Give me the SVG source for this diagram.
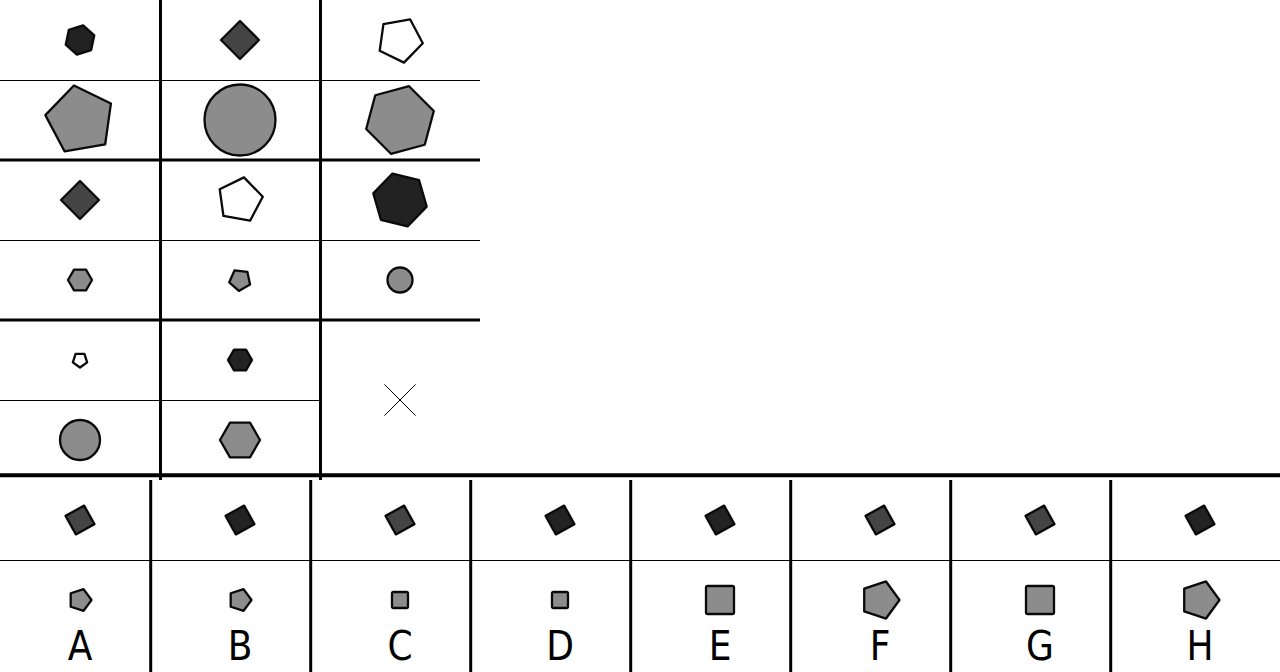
<svg xmlns="http://www.w3.org/2000/svg" xmlns:xlink="http://www.w3.org/1999/xlink" width="1280" height="672" viewBox="0 0 1280 672">
<style>
.s{stroke:#0a0a0a;stroke-width:2.3;stroke-linejoin:round}
.k{fill:#222}.d{fill:#444}.g{fill:#8c8c8c}.w{fill:#fff}
.thin{stroke:#000;stroke-width:1;fill:none}
.thick{stroke:#000;stroke-width:3;fill:none}
.lbl{font-family:"Liberation Sans Narrow","DejaVu Sans Condensed","DejaVu Sans",sans-serif;font-stretch:condensed;font-size:40px;text-anchor:middle;fill:#000}
</style>
<defs>
<polygon id="sq" points="4.13,-14.42 14.42,4.13 -4.13,14.42 -14.42,-4.13"/>
<polygon id="p5s" points="11.5,0 3.55,10.94 -9.3,6.76 -9.3,-6.76 3.55,-10.94"/>
<polygon id="p5l" points="19.5,0 6.03,18.55 -15.78,11.46 -15.78,-11.46 6.03,-18.55"/>
<rect id="rs" x="-8" y="-8" width="16" height="16" rx="1.5"/>
<rect id="rl" x="-14" y="-14" width="28" height="28" rx="1.5"/>
</defs>
<rect width="1280" height="672" fill="#fff"/>
<g id="grid">
<line class="thin" x1="0" y1="80.5" x2="480" y2="80.5"/>
<line class="thin" x1="0" y1="240.5" x2="480" y2="240.5"/>
<line class="thin" x1="0" y1="400.5" x2="320" y2="400.5"/>
<line class="thick" x1="0" y1="160" x2="480" y2="160"/>
<line class="thick" x1="0" y1="320" x2="480" y2="320"/>
<line class="thick" x1="160.5" y1="0" x2="160.5" y2="480"/>
<line class="thick" x1="320.5" y1="0" x2="320.5" y2="480"/>
<line stroke="#000" stroke-width="4" x1="0" y1="475.3" x2="1280" y2="475.3"/>
<line class="thin" x1="0" y1="560.5" x2="1280" y2="560.5"/>
<line class="thick" x1="150.7" y1="480" x2="150.7" y2="672"/>
<line class="thick" x1="310.7" y1="480" x2="310.7" y2="672"/>
<line class="thick" x1="470.7" y1="480" x2="470.7" y2="672"/>
<line class="thick" x1="630.7" y1="480" x2="630.7" y2="672"/>
<line class="thick" x1="790.7" y1="480" x2="790.7" y2="672"/>
<line class="thick" x1="950.7" y1="480" x2="950.7" y2="672"/>
<line class="thick" x1="1110.7" y1="480" x2="1110.7" y2="672"/>
</g>
<g id="r1c1"><polygon class="s k" points="83.12,25.33 94.27,35.36 91.15,50.04 76.88,54.67 65.73,44.64 68.85,29.96"/><polygon class="s g" points="105.18,144.31 64.66,151.46 45.34,115.13 73.92,85.53 110.9,103.57"/></g>
<g id="r1c2"><polygon class="s d" points="240,21 259,40 240,59 221,40"/><circle class="s g" cx="240" cy="120" r="35.5"/></g>
<g id="r1c3"><polygon class="s w" points="422.78,43.2 403.99,62.65 379.69,50.8 383.46,24.02 410.08,19.33"/><polygon class="s g" points="433.81,110.94 424.75,144.75 390.94,153.81 366.19,129.06 375.25,95.25 409.06,86.19"/></g>
<g id="r2c1"><polygon class="s d" points="80,181 99,200 80,219 61,200"/><polygon class="s g" points="92,280 86,290.39 74,290.39 68,280 74,269.61 86,269.61"/></g>
<g id="r2c2"><polygon class="s w" points="250.08,220.67 223.46,215.98 219.69,189.2 243.99,177.35 262.78,196.8"/><polygon class="s g" points="250.05,284.47 238.85,290.94 229.24,282.29 234.5,270.47 247.36,271.83"/></g>
<g id="r2c3"><polygon class="s k" points="426.68,206.65 407.58,226.44 380.9,219.78 373.32,193.35 392.42,173.56 419.1,180.22"/><circle class="s g" cx="400" cy="280" r="12.5"/></g>
<g id="r3c1"><polygon class="s w" points="87.13,362.32 80,367.5 72.87,362.32 75.59,353.93 84.41,353.93"/><circle class="s g" cx="80" cy="440" r="20"/></g>
<g id="r3c2"><polygon class="s k" points="252,360 246,370.39 234,370.39 228,360 234,349.61 246,349.61"/><polygon class="s g" points="260,440 250,457.32 230,457.32 220,440 230,422.68 250,422.68"/></g>
<g id="r3c3"><path d="M384.5,384.5 L415.5,415.5 M415.5,384.5 L384.5,415.5" stroke="#000" stroke-width="1" fill="none"/></g>
<g id="optA"><use xlink:href="#sq" href="#sq" x="80" y="520" class="s d"/><use xlink:href="#p5s" href="#p5s" x="80" y="600" class="s g"/><text class="lbl" x="80" y="660">A</text></g>
<g id="optB"><use xlink:href="#sq" href="#sq" x="240" y="520" class="s k"/><use xlink:href="#p5s" href="#p5s" x="240" y="600" class="s g"/><text class="lbl" x="240" y="660">B</text></g>
<g id="optC"><use xlink:href="#sq" href="#sq" x="400" y="520" class="s d"/><use xlink:href="#rs" href="#rs" x="400" y="600" class="s g"/><text class="lbl" x="400" y="660">C</text></g>
<g id="optD"><use xlink:href="#sq" href="#sq" x="560" y="520" class="s k"/><use xlink:href="#rs" href="#rs" x="560" y="600" class="s g"/><text class="lbl" x="560" y="660">D</text></g>
<g id="optE"><use xlink:href="#sq" href="#sq" x="720" y="520" class="s k"/><use xlink:href="#rl" href="#rl" x="720" y="600" class="s g"/><text class="lbl" x="720" y="660">E</text></g>
<g id="optF"><use xlink:href="#sq" href="#sq" x="880" y="520" class="s d"/><use xlink:href="#p5l" href="#p5l" x="880" y="600" class="s g"/><text class="lbl" x="880" y="660">F</text></g>
<g id="optG"><use xlink:href="#sq" href="#sq" x="1040" y="520" class="s d"/><use xlink:href="#rl" href="#rl" x="1040" y="600" class="s g"/><text class="lbl" x="1040" y="660">G</text></g>
<g id="optH"><use xlink:href="#sq" href="#sq" x="1200" y="520" class="s k"/><use xlink:href="#p5l" href="#p5l" x="1200" y="600" class="s g"/><text class="lbl" x="1200" y="660">H</text></g>
</svg>
